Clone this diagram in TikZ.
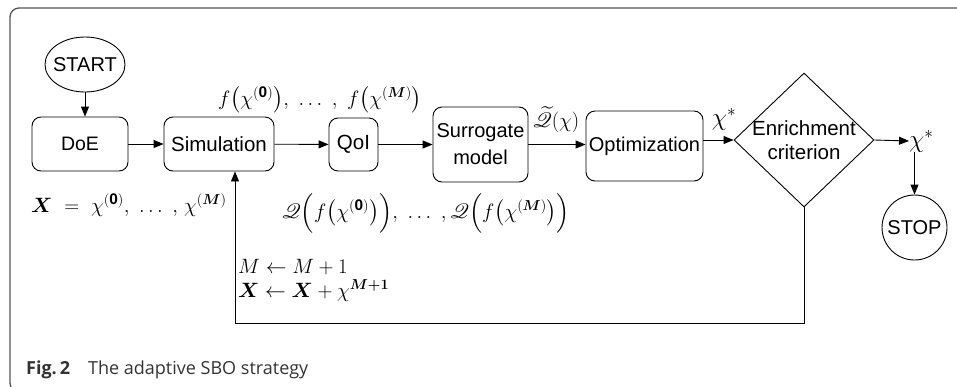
\documentclass[tikz,border=0pt]{standalone}
\definecolor{framegray}{HTML}{555555}
\definecolor{captiongray}{HTML}{333333}
\usepackage{amsmath,amssymb,bm}
\usepackage{mathrsfs}
\usepackage{fontspec}
\setmainfont{Liberation Sans}
\newfontfamily\capfont{Open Sans}
\usepackage{tikz}
\usetikzlibrary{arrows.meta,positioning,shapes.geometric,calc}

\tikzset{
  flowbox/.style={draw,rounded corners=9pt,line width=0.9pt,align=center,inner sep=0pt},
  termnode/.style={draw,ellipse,line width=0.9pt,inner xsep=-12pt,inner ysep=0pt,font=\fontsize{20}{23}\selectfont},
  decision/.style={draw,diamond,line width=0.9pt,align=center,inner sep=-6pt,
    minimum width=140pt,minimum height=134pt},
  arr/.style={-{Triangle[length=10pt,width=8pt]},line width=0.9pt},
  mathlbl/.style={inner sep=0pt,font=\fontsize{22}{26}\selectfont}
}

\begin{document}
\begin{tikzpicture}[x=1pt,y=-1pt,font=\fontsize{20.5}{24}\selectfont]
  \useasboundingbox (0,0) rectangle (957,386);
  % frame
  \draw[framegray,line width=1.3pt,rounded corners=9pt] (990,8) -- (10,8) -- (10,392) -- (40,392);
  % start and DoE
  \node[termnode,minimum width=80pt,minimum height=55pt] (start) at (85,64.5) {START};
  \node[flowbox,minimum width=96pt,minimum height=54pt,font=\fontsize{19.5}{23}\selectfont] (doe) at (80,144) {DoE};
  % Simulation
  \node[flowbox,minimum width=110pt,minimum height=54pt] (sim) at (219,144) {Simulation};
  % QoI
  \node[flowbox,minimum width=49pt,minimum height=53pt] (qoi) at (353.5,144.5) {QoI};
  % Surrogate model
  \node[flowbox,minimum width=95pt,minimum height=75pt,font=\fontsize{20}{27}\selectfont] (surr) at (480.5,144.5) {Surrogate\\model};
  % Optimization
  \node[flowbox,minimum width=117pt,minimum height=70pt,font=\fontsize{20}{24}\selectfont] (opt) at (644.5,146) {Optimization};
  % Enrichment criterion
  \node[decision] (enr) at (804,140) {Enrichment\\criterion};
  \node[mathlbl,anchor=west,font=\fontsize{25}{28}\selectfont] (xbest) at (909,141) {$\chi^*$};
  \node[termnode,circle,inner sep=-12pt,minimum size=65pt] (stop) at (914.5,227.5) {STOP};
  % labels
  \node[mathlbl] (fvals) at (320,100)
    {$f\bigl(\chi^{(\mathbf{0})}\bigr),\ \ldots\ ,\ f\bigl(\chi^{(\boldsymbol{M})}\bigr)$};
  \node[mathlbl,anchor=west] (xset) at (31,205)
    {$\boldsymbol{X}\ =\ \chi^{(\mathbf{0})}\mathbf{,}\ \ldots\ \mathbf{,}\ \chi^{(\boldsymbol{M})}$};
  \node[mathlbl] (qvals) at (426,213)
    {$\mathscr{Q}\Bigl(f\bigl(\chi^{(\mathbf{0})}\bigr)\Bigr),\ \ldots\ ,\mathscr{Q}\Bigl(f\bigl(\chi^{(\boldsymbol{M})}\bigr)\Bigr)$};
  \node[mathlbl] (qsurr) at (556,120) {$\widetilde{\mathscr{Q}}(\chi)$};
  \node[mathlbl,font=\fontsize{25}{28}\selectfont] (xopt) at (724,119) {$\chi^*$};
  \node[mathlbl,anchor=north west,align=left] (update) at (238,259)
    {$M \leftarrow M+1$\\[-2pt] $\boldsymbol{X} \leftarrow \boldsymbol{X} + \chi^{\boldsymbol{M+1}}$};
  % connectors
  \draw[arr] (start.south) -- (start.south |- doe.north);
  \draw[arr] (doe) -- (sim);
  \draw[arr] (sim) -- (qoi);
  \draw[arr] (qoi) -- (surr);
  \draw[arr] (surr.east) -- (surr.east -| opt.west);
  \draw[arr] (enr.west -| opt.east) -- (enr.west);
  \draw[arr] (enr.east) -- (xbest.west);
  \draw[arr] (stop.north |- xbest.south) -- (stop.north);
  \coordinate (back) at (235,323);
  \draw[arr] (enr.south) |- (back) -- (back |- sim.south);
  % caption
  \node[anchor=west,text=captiongray,inner sep=0pt,font=\capfont\fontsize{18}{21}\selectfont] (cap) at (26,370)
    {\textbf{Fig.\,2}\quad The adaptive SBO strategy};
\end{tikzpicture}
\end{document}
